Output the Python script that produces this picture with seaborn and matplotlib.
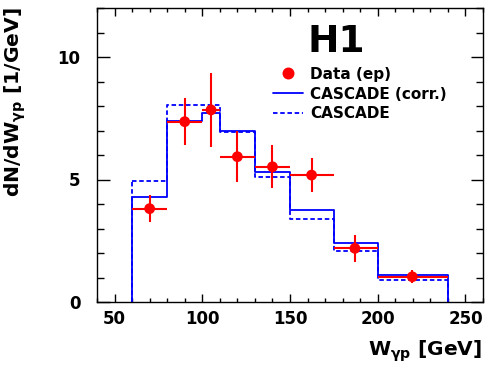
"""H1 — W_gammap distribution, data vs CASCADE."""

import matplotlib

matplotlib.use("Agg")
import matplotlib.pyplot as plt
import numpy as np
import pandas as pd
import seaborn as sns
from matplotlib.lines import Line2D
from matplotlib.ticker import MultipleLocator

EDGES = [60, 80, 100, 110, 130, 150, 175, 200, 240]
CASCADE_CORR = [4.29, 7.39, 7.70, 6.99, 5.32, 3.76, 2.42, 1.10]
CASCADE = [4.94, 8.04, 8.04, 6.95, 5.10, 3.40, 2.08, 0.90]

DATA_X = [70, 90, 105, 120, 140, 162.3, 187, 219.7]
DATA_Y = [3.81, 7.36, 7.84, 5.93, 5.52, 5.18, 2.19, 1.03]
DATA_ERR = [0.55, 0.97, 1.5, 1.03, 0.88, 0.71, 0.55, 0.27]

BLUE = "#0000ff"
RED = "#ff0000"
DASH = (0, (2.5, 1.5))

sns.set_style("ticks")
plt.rcParams["font.family"] = ["DejaVu Sans"]
plt.rcParams["font.weight"] = "bold"
plt.rcParams["mathtext.fontset"] = "custom"
plt.rcParams["mathtext.rm"] = "DejaVu Sans:bold"
plt.rcParams["mathtext.it"] = "DejaVu Sans:bold"
plt.rcParams["mathtext.bf"] = "DejaVu Sans:bold"
for schluessel in ["text.color", "axes.labelcolor", "xtick.color",
                   "ytick.color", "axes.edgecolor"]:
    plt.rcParams[schluessel] = "black"

fig = plt.figure(figsize=(4.98, 3.75), dpi=100)
ax = fig.add_axes([97 / 498, 1 - 302 / 375, 386 / 498, 294 / 375])

edges = np.array(EDGES, dtype=float)
centers = (edges[:-1] + edges[1:]) / 2

for werte, stil in [(CASCADE, DASH), (CASCADE_CORR, "-")]:
    df = pd.DataFrame({"w": centers, "n": werte})
    sns.histplot(data=df, x="w", weights="n", bins=EDGES, element="step",
                 fill=False, color=BLUE, linewidth=1.3, linestyle=stil, ax=ax)
    ax.vlines([edges[0], edges[-1]], 0, [werte[0], werte[-1]],
              color=BLUE, linewidth=1.3, linestyles=[stil])

x = np.array(DATA_X)
xerr = [x - edges[:-1], edges[1:] - x]
ax.errorbar(x, DATA_Y, yerr=DATA_ERR, xerr=xerr, fmt="none",
            ecolor=RED, elinewidth=1.5, capsize=0, zorder=4)
sns.scatterplot(x=DATA_X, y=DATA_Y, color=RED, s=60, edgecolor="none",
                zorder=5, ax=ax)

ax.set_xlim(40, 260)
ax.set_ylim(0, 12)
ax.xaxis.set_major_locator(MultipleLocator(50))
ax.xaxis.set_minor_locator(MultipleLocator(10))
ax.yaxis.set_major_locator(MultipleLocator(5))
ax.yaxis.set_minor_locator(MultipleLocator(1))
ax.tick_params(axis="both", which="both", direction="in", top=True,
               right=True, width=1.0, labelsize=12, colors="black")
ax.tick_params(axis="x", which="major", length=6, pad=6)
ax.tick_params(axis="x", which="minor", length=3)
ax.tick_params(axis="y", which="major", length=9, pad=12)
ax.tick_params(axis="y", which="minor", length=5)
for spine in ax.spines.values():
    spine.set_linewidth(1.0)
    spine.set_color("black")
ax.set_xlabel("")
ax.set_ylabel("")

fig.text(15 / 498, 1 - 7 / 375, r"dN/dW$_{\gamma p}$ [1/GeV]", rotation=90,
         fontsize=14.6, fontweight="bold", ha="center", va="top")
fig.text(482 / 498, 1 - 356 / 375, r"W$_{\gamma p}$ [GeV]", fontsize=14.5,
         fontweight="bold", ha="right", va="baseline")
fig.text(307 / 498, 1 - 52 / 375, "H1", fontsize=27, fontweight="bold",
         ha="left", va="baseline")

handles = [
    Line2D([], [], marker="o", color=RED, linestyle="none", markersize=7.6),
    Line2D([], [], color=BLUE, linewidth=1.3),
    Line2D([], [], color=BLUE, linewidth=1.3, linestyle=DASH),
]
ax.legend(handles, ["Data (ep)", "CASCADE (corr.)", "CASCADE"],
          loc="upper left", bbox_to_anchor=(0.456, 0.80), frameon=False,
          fontsize=11, handlelength=1.96, handletextpad=0.46,
          labelspacing=0.31, borderaxespad=0, borderpad=0)

fig.savefig("out.png", dpi=100)
plt.close(fig)
